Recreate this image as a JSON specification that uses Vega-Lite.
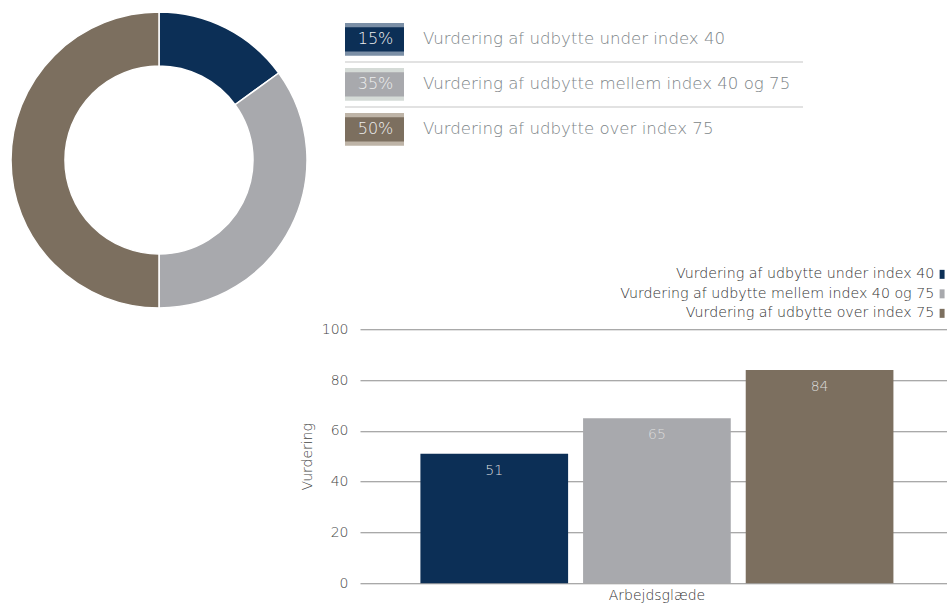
{
  "$schema": "https://vega.github.io/schema/vega-lite/v6.json",
  "padding": 0,
  "background": "white",
  "bounds": "flush",
  "spacing": 42,
  "resolve": {"scale": {"color": "independent"}, "legend": {"color": "independent"}},
  "config": {"view": {"stroke": null}, "font": "DejaVu Sans"},
  "datasets": {
    "d": [
      {"kategori": "Vurdering af udbytte under index 40", "andel": 0.15, "vurdering": 51, "emne": "Arbejdsglæde", "orden": 1},
      {"kategori": "Vurdering af udbytte mellem index 40 og 75", "andel": 0.35, "vurdering": 65, "emne": "Arbejdsglæde", "orden": 2},
      {"kategori": "Vurdering af udbytte over index 75", "andel": 0.5, "vurdering": 84, "emne": "Arbejdsglæde", "orden": 3}
    ]
  },
  "hconcat": [
    {
      "width": 318,
      "height": 320,
      "data": {"name": "d"},
      "mark": {"type": "arc", "outerRadius": 148, "innerRadius": 94, "stroke": "white", "strokeWidth": 1.5},
      "encoding": {
        "theta": {"field": "andel", "type": "quantitative", "stack": true},
        "order": {"field": "orden", "type": "quantitative"},
        "color": {
          "field": "kategori", "type": "nominal", "legend": null,
          "scale": {
            "domain": ["Vurdering af udbytte under index 40", "Vurdering af udbytte mellem index 40 og 75", "Vurdering af udbytte over index 75"],
            "range": ["#0c2f56", "#a8a9ad", "#7c6f5f"]
          }
        }
      }
    },
    {
      "bounds": "flush",
      "spacing": 160.25,
      "resolve": {"scale": {"color": "independent"}, "legend": {"color": "independent"}},
      "vconcat": [
        {
          "width": 445,
          "height": 168.75,
          "data": {"name": "d"},
          "encoding": {
            "y": {
              "field": "kategori", "type": "nominal", "axis": null,
              "sort": ["Vurdering af udbytte under index 40", "Vurdering af udbytte mellem index 40 og 75", "Vurdering af udbytte over index 75"],
              "scale": {"paddingInner": 0, "paddingOuter": 0.375}
            }
          },
          "resolve": {"scale": {"color": "independent"}},
          "layer": [
            {
              "transform": [{"filter": "datum.orden < 3"}],
              "mark": {"type": "rule", "color": "#e2e2e2", "strokeWidth": 2},
              "encoding": {
                "y": {"field": "kategori", "type": "nominal", "bandPosition": 1, "axis": null,
                  "sort": ["Vurdering af udbytte under index 40", "Vurdering af udbytte mellem index 40 og 75", "Vurdering af udbytte over index 75"]},
                "x": {"datum": -15, "type": "quantitative", "scale": {"domain": [0, 445], "nice": false, "zero": false}, "axis": null},
                "x2": {"datum": 443}
              }
            },
            {
              "mark": {"type": "bar", "height": {"band": 0.733}},
              "encoding": {
                "x": {"datum": -15, "type": "quantitative", "axis": null},
                "x2": {"datum": 44},
                "color": {
                  "field": "kategori", "type": "nominal", "legend": null,
                  "scale": {
                    "domain": ["Vurdering af udbytte under index 40", "Vurdering af udbytte mellem index 40 og 75", "Vurdering af udbytte over index 75"],
                    "range": ["#7b8fa6", "#d5dbd7", "#beb4a7"]
                  }
                }
              }
            },
            {
              "mark": {"type": "bar", "height": {"band": 0.542}},
              "encoding": {
                "x": {"datum": -15, "type": "quantitative", "axis": null},
                "x2": {"datum": 44},
                "color": {
                  "field": "kategori", "type": "nominal", "legend": null,
                  "scale": {
                    "domain": ["Vurdering af udbytte under index 40", "Vurdering af udbytte mellem index 40 og 75", "Vurdering af udbytte over index 75"],
                    "range": ["#0c2f56", "#a8a9ad", "#7c6f5f"]
                  }
                }
              }
            },
            {
              "mark": {"type": "text", "align": "center", "baseline": "middle", "fontSize": 16, "fontWeight": 300, "color": "#eeeeee"},
              "encoding": {
                "x": {"datum": 15.5, "type": "quantitative", "axis": null},
                "text": {"field": "andel", "type": "quantitative", "format": ".0%"}
              }
            },
            {
              "mark": {"type": "text", "align": "left", "baseline": "middle", "fontSize": 16.6, "fontWeight": 300, "color": "#7c8487"},
              "encoding": {
                "x": {"datum": 63, "type": "quantitative", "axis": null},
                "text": {"field": "kategori", "type": "nominal"}
              }
            }
          ]
        },
        {
          "width": 587,
          "height": 254,
          "data": {"name": "d"},
          "encoding": {
            "x": {
              "field": "emne", "type": "nominal", "title": null,
              "scale": {"paddingInner": 0, "paddingOuter": 0.1205, "align": 0.53},
              "axis": {"domain": false, "ticks": false, "labelAngle": 0, "labelFontSize": 14, "labelColor": "#333333", "labelPadding": 5, "labelFontWeight": 300}
            },
            "xOffset": {
              "field": "kategori", "type": "nominal",
              "sort": ["Vurdering af udbytte under index 40", "Vurdering af udbytte mellem index 40 og 75", "Vurdering af udbytte over index 75"],
              "scale": {"paddingInner": 0.092, "paddingOuter": 0}
            },
            "y": {
              "field": "vurdering", "type": "quantitative", "title": "Vurdering",
              "scale": {"domain": [0, 100], "nice": false},
              "axis": {"values": [0, 20, 40, 60, 80, 100], "grid": true, "gridColor": "#8c8c8c", "gridWidth": 1, "domain": false, "ticks": false,
                "labelPadding": 12, "labelFontSize": 14, "labelColor": "#444444", "labelFontWeight": 300,
                "titleFontSize": 14, "titleFontWeight": 300, "titleColor": "#444444", "titlePadding": 7}
            }
          },
          "layer": [
            {
              "mark": {"type": "bar"},
              "encoding": {
                "color": {
                  "field": "kategori", "type": "nominal",
                  "scale": {
                    "domain": ["Vurdering af udbytte under index 40", "Vurdering af udbytte mellem index 40 og 75", "Vurdering af udbytte over index 75"],
                    "range": ["#0c2f56", "#a8a9ad", "#7c6f5f"]
                  },
                  "legend": {
                    "title": null, "orient": "none", "legendX": 575, "legendY": -62, "direction": "vertical",
                    "labelAlign": "right", "labelOffset": -15, "labelLimit": 0, "labelFontSize": 14.2, "labelColor": "#333333", "labelFontWeight": 300,
                    "symbolType": "M-0.55,-1H0.55V1H-0.55Z", "symbolSize": 81, "symbolStrokeWidth": 0, "symbolOpacity": 1,
                    "rowPadding": 4.5, "padding": 0
                  }
                }
              }
            },
            {
              "mark": {"type": "text", "baseline": "top", "dy": 10, "fontSize": 14, "fontWeight": 300, "color": "#dcdcdc"},
              "encoding": {
                "text": {"field": "vurdering", "type": "quantitative"}
              }
            }
          ]
        }
      ]
    }
  ]
}
